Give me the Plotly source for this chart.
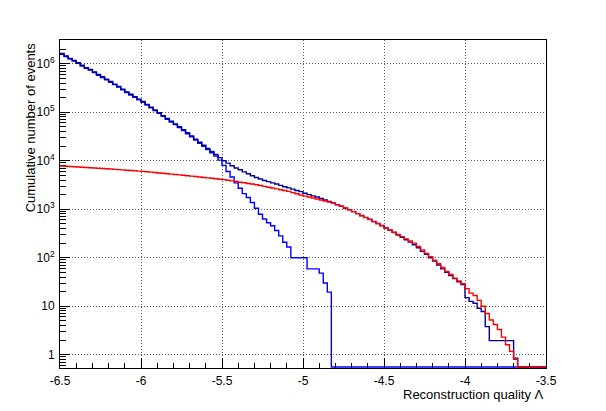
import numpy as np
import plotly.graph_objects as go

# ---------------- data ----------------
x_min = -6.5
bin_width = 0.025
n_bins = 120

# total (upper blue), cumulative number of events per bin
total = [1.62e6, 1.45e6, 1.29e6, 1.17e6, 1.05e6, 9.3e5, 8.3e5, 7.6e5, 6.8e5, 6.0e5,
         5.4e5, 4.8e5, 4.3e5, 3.8e5, 3.4e5, 3.0e5, 2.63e5, 2.34e5, 2.09e5, 1.86e5,
         1.66e5, 1.45e5, 1.27e5, 1.12e5, 9.8e4, 8.5e4, 7.4e4, 6.5e4, 5.75e4, 5.0e4,
         4.37e4, 3.76e4, 3.24e4, 2.79e4, 2.4e4, 2.09e4, 1.8e4, 1.55e4, 1.35e4, 1.16e4,
         1.0e4, 8.9e3, 7.9e3, 7.1e3, 6.5e3, 5.9e3, 5.4e3, 4.9e3, 4.5e3, 4.2e3,
         3.9e3, 3.7e3, 3.5e3, 3.3e3, 3.1e3, 2.9e3, 2.75e3, 2.6e3, 2.43e3, 2.3e3,
         2.14e3, 2.0e3, 1.88e3, 1.78e3, 1.66e3, 1.55e3, 1.45e3, 1.35e3, 1.24e3, 1.15e3,
         1.05e3, 970, 890, 810, 740, 680, 620, 560, 510, 460,
         410, 370, 330, 295, 265, 235, 210, 185, 160, 135,
         117, 100, 85, 71, 59, 50, 43, 37, 32, 28,
         15, 12.6, 11.5, 9.1, 7.8, 3.8, 1.95, 1.95, 1.95, 1.95,
         1.95, 1.95, 0.85, 0, 0, 0, 0, 0, 0, 0]

# background (lower blue)
background = [1.57e6, 1.41e6, 1.25e6, 1.13e6, 1.02e6, 9.0e5, 8.05e5, 7.4e5, 6.6e5, 5.8e5,
              5.2e5, 4.65e5, 4.15e5, 3.7e5, 3.3e5, 2.9e5, 2.55e5, 2.27e5, 2.02e5, 1.8e5,
              1.6e5, 1.4e5, 1.23e5, 1.08e5, 9.5e4, 8.2e4, 7.15e4, 6.3e4, 5.55e4, 4.8e4,
              4.2e4, 3.6e4, 3.1e4, 2.67e4, 2.29e4, 1.99e4, 1.7e4, 1.46e4, 1.25e4, 1.03e4,
              8.0e3, 6.0e3, 4.6e3, 3.5e3, 2.7e3, 2.1e3, 1.74e3, 1.38e3, 1.05e3, 790,
              630, 525, 457, 363, 282, 209, 166, 100, 100, 100,
              100, 59, 59, 59, 48, 30, 19.5, 0, 0, 0,
              0, 0, 0, 0, 0, 0, 0, 0, 0, 0,
              0, 0, 0, 0, 0, 0, 0, 0, 0, 0,
              0, 0, 0, 0, 0, 0, 0, 0, 0, 0,
              0, 0, 0, 0, 0, 0, 0, 0, 0, 0,
              0, 0, 0, 0, 0, 0, 0, 0, 0, 0]

# signal (red)
signal = [7800, 7700, 7600, 7500, 7400, 7330, 7250, 7160, 7080, 7000,
          6920, 6820, 6730, 6640, 6550, 6460, 6370, 6280, 6190, 6110,
          6030, 5920, 5810, 5700, 5600, 5500, 5400, 5300, 5200, 5100,
          5010, 4910, 4810, 4710, 4610, 4520, 4430, 4340, 4250, 4160,
          4070, 3950, 3840, 3720, 3610, 3510, 3400, 3300, 3200, 3080,
          2960, 2840, 2740, 2630, 2520, 2430, 2330, 2200, 2080, 1970,
          1860, 1780, 1700, 1620, 1550, 1480, 1410, 1350, 1245, 1150,
          1060, 980, 890, 810, 735, 670, 610, 555, 500, 457,
          412, 372, 335, 302, 272, 245, 221, 200, 170, 145,
          123, 105, 89, 75, 63, 52, 45, 38, 33, 29,
          23, 18.6, 16.6, 13.2, 10, 7.1, 5.2, 4.2, 3.3, 2.3,
          1.6, 1.17, 0.8, 0, 0, 0, 0, 0, 0, 0]

x_ticks = [-6.5, -6.0, -5.5, -5.0, -4.5, -4.0, -3.5]
x_ticktext = ["-6.5", "-6", "-5.5", "-5", "-4.5", "-4", "-3.5"]
y_ticks = [1, 10, 100, 1e3, 1e4, 1e5, 1e6]
y_ticktext = ["1", "10", "10<sup>2</sup>", "10<sup>3</sup>", "10<sup>4</sup>",
              "10<sup>5</sup>", "10<sup>6</sup>"]

# ---------------- figure ----------------
ylog_range = [-0.274, 6.489]
floor = 10 ** (ylog_range[0] + 0.02)
edges = x_min + bin_width * np.arange(n_bins + 1)


def step_xy(vals):
    y = [max(v, floor) for v in vals]
    y.append(y[-1])
    return list(edges), y


fig = go.Figure()
for vals, color in [(background, "#0000ff"), (total, "#000099"), (signal, "#ff0000")]:
    xs, ys = step_xy(vals)
    fig.add_trace(go.Scatter(x=xs, y=ys, mode="lines", line_shape="hv",
                             line=dict(color=color, width=1.4), hoverinfo="skip"))

font = dict(family="Liberation Sans, Arial, sans-serif", size=12, color="black")
title_font = dict(family="Liberation Sans, Arial, sans-serif", size=13, color="black")
minor_y = [k * 10 ** d for d in range(-1, 7) for k in range(2, 10)]

# the page body has an 8px margin: the figure is shrunk so it fits the window
fig.update_layout(
    width=598, height=403,
    margin=dict(l=52, r=60, t=32, b=43),
    paper_bgcolor="white", plot_bgcolor="white",
    showlegend=False,
    font=font,
    xaxis=dict(
        range=[-6.5, -3.5], tickmode="array", tickvals=x_ticks, ticktext=x_ticktext,
        ticks="inside", ticklen=10, tickcolor="black", tickwidth=1,
        showline=True, linecolor="black", linewidth=1, mirror=True,
        showgrid=True, gridcolor="#555555", gridwidth=1, griddash="1px,2px",
        zeroline=False, tickfont=font, layer="below traces", ticklabelstandoff=2,
        minor=dict(ticks="inside", ticklen=5, tick0=-6.5, dtick=0.1,
                   tickcolor="black", showgrid=False),
    ),
    yaxis=dict(
        type="log", range=ylog_range, tickmode="array", tickvals=y_ticks,
        ticktext=y_ticktext,
        ticks="inside", ticklen=10, tickcolor="black", tickwidth=1,
        showline=True, linecolor="black", linewidth=1, mirror=True,
        showgrid=True, gridcolor="#555555", gridwidth=1, griddash="1px,2px",
        zeroline=False, tickfont=font, layer="below traces", ticklabelstandoff=2,
        minor=dict(ticks="inside", ticklen=6, tickmode="array", tickvals=minor_y,
                   tickcolor="black", showgrid=False),
    ),
    annotations=[
        dict(text="Reconstruction quality Λ", xref="paper", yref="paper",
             x=1.0, y=-0.08, xanchor="right", yanchor="middle",
             showarrow=False, font=title_font),
        dict(text="Cumulative number of events", xref="paper", yref="paper",
             x=-0.061, y=1.0, xanchor="center", yanchor="top", textangle=-90,
             showarrow=False, font=title_font),
    ],
)

fig.write_html("out.html")
